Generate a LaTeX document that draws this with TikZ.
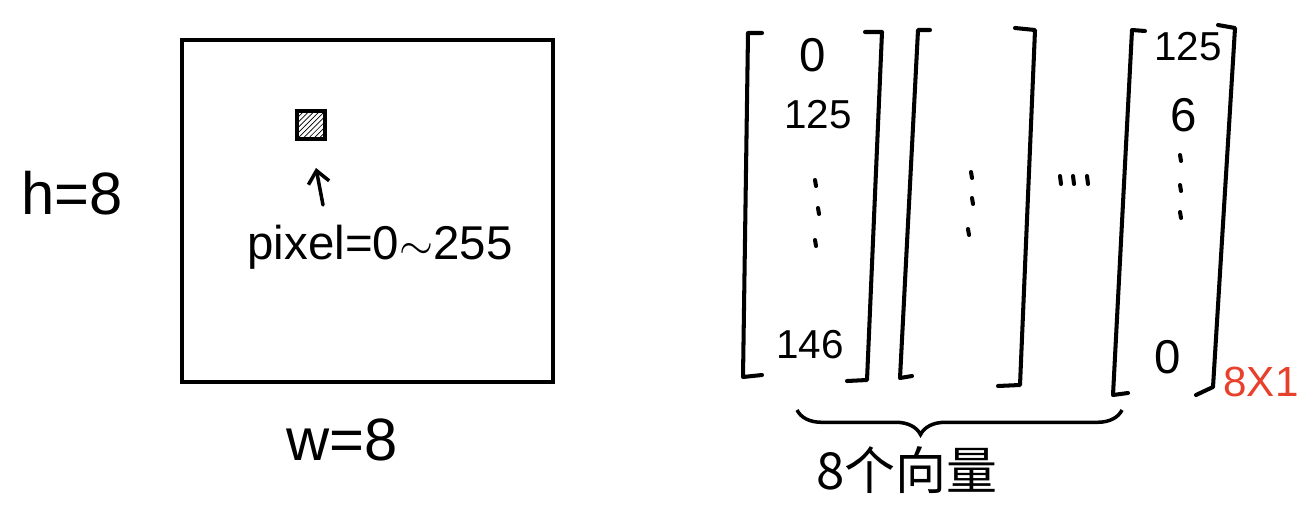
\documentclass[tikz,border=0pt]{standalone}
\usepackage{fontspec}
\setmainfont{Liberation Sans}
\newfontfamily\cjk{Noto Sans CJK SC}
\usetikzlibrary{positioning,arrows.meta,patterns,decorations.pathreplacing}
\definecolor{inkred}{HTML}{E8402A}
\tikzset{
  bracket/.style={line width=2.3pt, line cap=round, line join=round},
  entry/.style={inner sep=0pt, font=\fontsize{27}{29}\selectfont},
  num/.style={inner sep=0pt, font=\fontsize{23}{25}\selectfont},
  tick/.style={line width=2.3pt, line cap=round},
  label/.style={inner sep=0pt, font=\fontsize{34}{36}\selectfont}
}
\begin{document}
\begin{tikzpicture}[x=0.02cm, y=-0.02cm]
    \useasboundingbox (0,0) rectangle (1300,510);

    % image
    \node[draw, line width=1.8pt, minimum width=7.42cm, minimum height=6.84cm] (img) at (367.5,211) {};
    \node[label] (h) at (72,193) {h=8};
    \node[label] (w) at (342,440) {w=8};
    \node[draw, line width=2pt, pattern=north east lines, minimum size=0.56cm, inner sep=0pt] (pix) at (311,125) {};
    \node[inner sep=0pt, font=\fontsize{27}{29}\selectfont] (pixlbl) at (380,247) {pixel=0$\sim$255};
    \draw[line width=2pt, line cap=round, -{Straight Barb[length=7pt, width=12pt]}] (323,205) -- (316,168);

    % vectors
    \draw[bracket] (762,33) -- (748,33) -- (743,377) -- (762,375);
    \draw[bracket] (865,32) -- (882,32) -- (867,380) -- (847,381);
    \draw[bracket] (930,30) -- (918,30) -- (900,378) -- (912,376);
    \draw[bracket] (1015,28) -- (1035,30) -- (1020,385) -- (998,386);
    \draw[bracket] (1145,31) -- (1132,30) -- (1113,395) -- (1128,393);
    \draw[bracket] (1218,25) -- (1235,28) -- (1213,387) -- (1196,395);

    \node[entry] (a1) at (813,55) {0};
    \node[num] (a2) at (818,115) {125};
    \node[num] (a8) at (810,345) {146};
    \node[num] (c1) at (1188,47) {125};
    \node[entry] (c2) at (1184,115) {6};
    \node[entry] (c8) at (1168,357) {0};
    \foreach \x/\y in {815/180, 818/208, 815/240, 971/172, 972/198, 968/229, 1180/155, 1180/185, 1180/212}
        \draw[tick] (\x,\y) -- ++(1,6);
    \foreach \x in {1060,1073,1087}
        \draw[tick] (\x,176) -- ++(1,8);

    \node[inner sep=0pt, text=inkred, font=\fontsize{24}{26}\selectfont] (size) at (1261,382) {8X1};

    \draw[line width=2pt, decorate, decoration={brace, mirror, amplitude=14pt, aspect=0.38}] (797,410) -- (1122,410);
    \node[inner sep=0pt, font=\cjk\fontsize{29}{31}\selectfont] (count) at (907,470) {8个向量};
\end{tikzpicture}
\end{document}
